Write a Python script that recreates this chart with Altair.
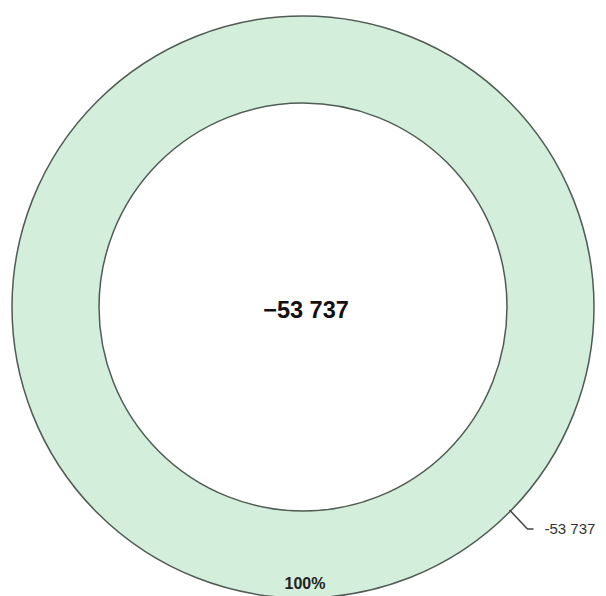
import math
import altair as alt
import pandas as pd

# data
categories = ["Total"]
values = [-53737]
center_label = "\u221253 737"
slice_label = "-53 737"
percent_label = "100%"

df = pd.DataFrame({"category": categories, "value": [abs(v) for v in values]})

W, H = 590, 588
CX, CY = 295, 299
R_OUT, R_IN = 291, 204

base = alt.Chart(df)

donut = base.mark_arc(
    outerRadius=R_OUT, innerRadius=R_IN, stroke="#4f5b53", strokeWidth=1.5, fill="#d4eedc"
).encode(
    theta=alt.Theta("value:Q", stack=True),
    x=alt.value(CX), y=alt.value(CY),
)

center = base.mark_text(
    fontSize=23.5, fontWeight="bold", font="Liberation Sans", color="#111111", baseline="middle"
).encode(x=alt.value(CX + 3), y=alt.value(CY + 4), text=alt.value(center_label))

pct = base.mark_text(
    fontSize=16, fontWeight="bold", font="Liberation Sans", color="#222222", baseline="middle"
).encode(x=alt.value(CX + 2), y=alt.value(CY + 277), text=alt.value(percent_label))

# leader line from the outer edge at ~45 degrees
ang = math.radians(44.5)
p0 = (CX + R_OUT * math.cos(ang) * 0.995, CY + R_OUT * math.sin(ang) * 0.995)
p1 = (p0[0] + 18, p0[1] + 19)
p2 = (p1[0] + 6, p1[1])
leader = pd.DataFrame({"x": [p0[0], p1[0], p2[0]], "y": [p0[1], p1[1], p2[1]], "o": [0, 1, 2]})
line = alt.Chart(leader).mark_line(color="#444444", strokeWidth=1.5).encode(
    x=alt.X("x:Q", scale=alt.Scale(domain=[0, W], range=[0, W]), axis=None),
    y=alt.Y("y:Q", scale=alt.Scale(domain=[0, H], range=[0, H]), axis=None),
    order="o:O",
)

lbl = base.mark_text(
    fontSize=15, font="Liberation Sans", color="#333333", align="left", baseline="middle"
).encode(x=alt.value(p2[0] + 11), y=alt.value(p2[1]), text=alt.value(slice_label))

chart = alt.layer(donut, line, center, pct, lbl).properties(
    width=W, height=H, autosize=alt.AutoSizeParams(type="none"), padding=0
).configure_view(stroke=None)

chart.save("out.html", embed_options={"renderer": "svg", "actions": False})
